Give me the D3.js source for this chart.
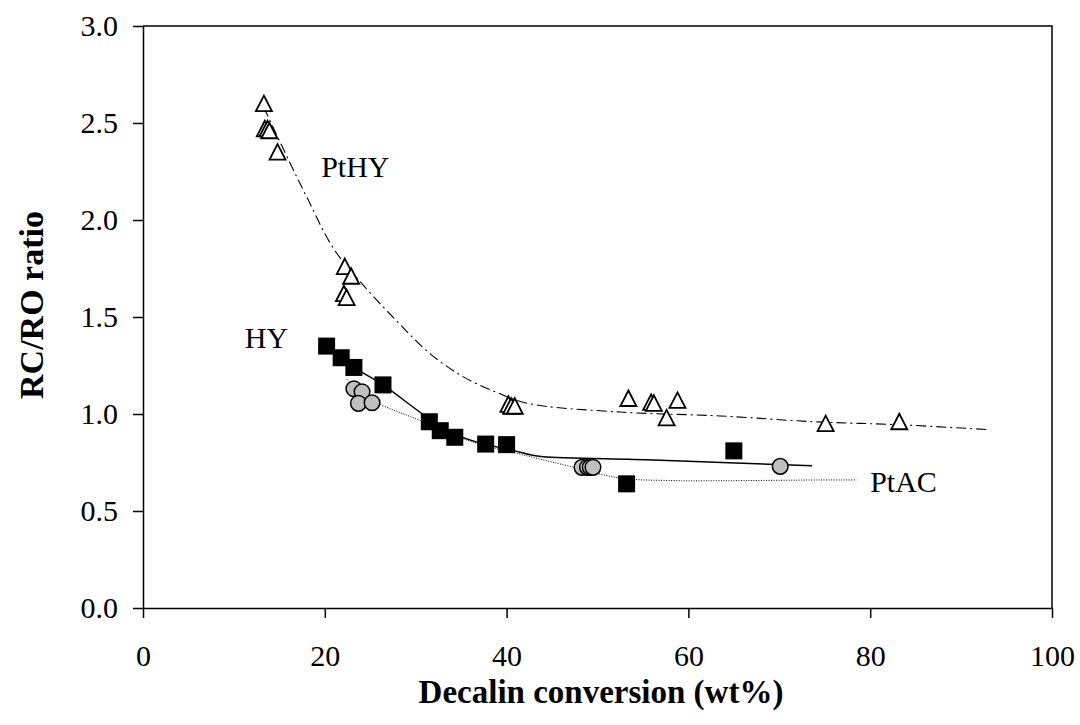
<!DOCTYPE html>
<html>
<head>
<meta charset="utf-8">
<script src="https://cdn.jsdelivr.net/npm/d3@7"></script>
<style>
  body { margin: 0; background: #fff; }
  svg { display: block; font-family: "Liberation Serif", "Times New Roman", serif; }
</style>
</head>
<body>
<div id="chart"></div>
<script>
// PtHY (open triangles)
const pthyX = [13.3, 13.4, 13.7, 13.9, 14.8, 22.2, 22.9, 22.1, 22.4, 40.2, 40.5, 40.9, 53.4, 55.9, 56.2, 58.8, 57.6, 75.1, 83.2];
const pthyY = [2.60, 2.47, 2.47, 2.46, 2.35, 1.76, 1.71, 1.62, 1.60, 1.05, 1.04, 1.04, 1.08, 1.06, 1.055, 1.07, 0.98, 0.95, 0.96];
// HY (filled squares)
const hyX = [20.2, 21.8, 23.2, 26.4, 31.5, 32.7, 34.3, 37.7, 40.0, 53.2, 65.0];
const hyY = [1.35, 1.29, 1.24, 1.15, 0.96, 0.914, 0.88, 0.845, 0.842, 0.64, 0.81];
// PtAC (grey circles)
const ptacX = [23.2, 24.1, 23.7, 25.2, 48.3, 48.9, 49.2, 49.5, 70.1];
const ptacY = [1.13, 1.115, 1.055, 1.058, 0.725, 0.725, 0.725, 0.725, 0.73];

// trend lines
const pthyFitX = [13.3, 15.6, 18.0, 21.0, 24.3, 27.9, 31.6, 35.3, 39.0, 42.3, 52.5, 63.5, 73.8, 83.0, 92.9];
const pthyFitY = [2.58, 2.35, 2.12, 1.85, 1.66, 1.48, 1.31, 1.19, 1.11, 1.055, 1.01, 0.99, 0.96, 0.945, 0.92];
const hyFitX = [20.2, 23.2, 26.4, 31.2, 34.1, 37.1, 40.5, 42.6, 44.0, 56.2, 73.6];
const hyFitY = [1.34, 1.24, 1.15, 0.985, 0.90, 0.85, 0.815, 0.79, 0.78, 0.763, 0.733];
const ptacFitX = [22.4, 24.0, 26.1, 30.3, 35.6, 42.6, 47.0, 52.5, 58.0, 63.5, 74.6, 78.5];
const ptacFitY = [1.18, 1.11, 1.05, 0.97, 0.866, 0.78, 0.73, 0.67, 0.657, 0.656, 0.66, 0.66];

const xTicks = [0, 20, 40, 60, 80, 100];
const yTicks = [0, 0.5, 1.0, 1.5, 2.0, 2.5, 3.0];

const labels = [
  {text: "PtHY", x: 19.6, y: 2.22},
  {text: "HY", x: 11.2, y: 1.34},
  {text: "PtAC", x: 80.0, y: 0.60}
];

const width = 1080, height = 725;
const margin = {top: 26, right: 28, bottom: 117, left: 143};
const w = width - margin.left - margin.right;
const h = height - margin.top - margin.bottom;

const svg = d3.select("#chart").append("svg")
  .attr("width", width)
  .attr("height", height);

const g = svg.append("g")
  .attr("transform", `translate(${margin.left},${margin.top})`);

const x = d3.scaleLinear().domain([0, 100]).range([0, w]);
const y = d3.scaleLinear().domain([0, 3]).range([h, 0]);

// frame (top and right)
g.append("path")
  .attr("d", `M0,0H${w}V${h}`)
  .attr("fill", "none")
  .attr("stroke", "#000")
  .attr("stroke-width", 1.5);

// axes
const xAxis = g.append("g")
  .attr("transform", `translate(0,${h})`)
  .call(d3.axisBottom(x).tickValues(xTicks).tickSize(10).tickSizeOuter(0).tickPadding(27).tickFormat(d3.format("d")));
const yAxis = g.append("g")
  .call(d3.axisLeft(y).tickValues(yTicks).tickSize(10).tickSizeOuter(0).tickPadding(15).tickFormat(d3.format(".1f")));

[xAxis, yAxis].forEach(a => {
  a.select(".domain").attr("stroke-width", 1.5);
  a.selectAll(".tick line").attr("stroke-width", 1.5);
  a.selectAll("text")
    .attr("font-family", "'Liberation Serif', 'Times New Roman', serif")
    .attr("font-size", 30)
    .attr("fill", "#000");
});

// axis titles
svg.append("text")
  .attr("x", 601)
  .attr("y", 703)
  .attr("text-anchor", "middle")
  .attr("font-size", 33)
  .attr("font-weight", "bold")
  .text("Decalin conversion (wt%)");

svg.append("text")
  .attr("transform", "translate(43,305) rotate(-90)")
  .attr("text-anchor", "middle")
  .attr("font-size", 34)
  .attr("font-weight", "bold")
  .text("RC/RO ratio");

// trend lines
const line = d3.line()
  .x(d => x(d[0]))
  .y(d => y(d[1]))
  .curve(d3.curveCatmullRom.alpha(0.5));

g.append("path")
  .datum(d3.zip(pthyFitX, pthyFitY))
  .attr("d", line)
  .attr("fill", "none")
  .attr("stroke", "#000")
  .attr("stroke-width", 1.1)
  .attr("stroke-dasharray", "10,4,2,4");

g.append("path")
  .datum(d3.zip(hyFitX, hyFitY))
  .attr("d", line)
  .attr("fill", "none")
  .attr("stroke", "#000")
  .attr("stroke-width", 1.5);

g.append("path")
  .datum(d3.zip(ptacFitX, ptacFitY))
  .attr("d", line)
  .attr("fill", "none")
  .attr("stroke", "#000")
  .attr("stroke-width", 1)
  .attr("stroke-dasharray", "1,1.5");

// markers
g.selectAll(".sq")
  .data(d3.zip(hyX, hyY))
  .enter().append("rect")
  .attr("class", "sq")
  .attr("x", d => x(d[0]) - 8.5)
  .attr("y", d => y(d[1]) - 8.5)
  .attr("width", 17)
  .attr("height", 17)
  .attr("fill", "#000");

g.selectAll(".tri")
  .data(d3.zip(pthyX, pthyY))
  .enter().append("path")
  .attr("class", "tri")
  .attr("d", "M0,-8L8,7.5L-8,7.5Z")
  .attr("transform", d => `translate(${x(d[0])},${y(d[1])})`)
  .attr("fill", "#fff")
  .attr("stroke", "#000")
  .attr("stroke-width", 1.8);

g.selectAll(".dot")
  .data(d3.zip(ptacX, ptacY))
  .enter().append("circle")
  .attr("class", "dot")
  .attr("cx", d => x(d[0]))
  .attr("cy", d => y(d[1]))
  .attr("r", 7.8)
  .attr("fill", "#c0c0c0")
  .attr("stroke", "#000")
  .attr("stroke-width", 1.5);

// series labels
g.selectAll(".lbl")
  .data(labels)
  .enter().append("text")
  .attr("class", "lbl")
  .attr("x", d => x(d.x))
  .attr("y", d => y(d.y))
  .attr("font-size", 30)
  .text(d => d.text);
</script>
</body>
</html>
